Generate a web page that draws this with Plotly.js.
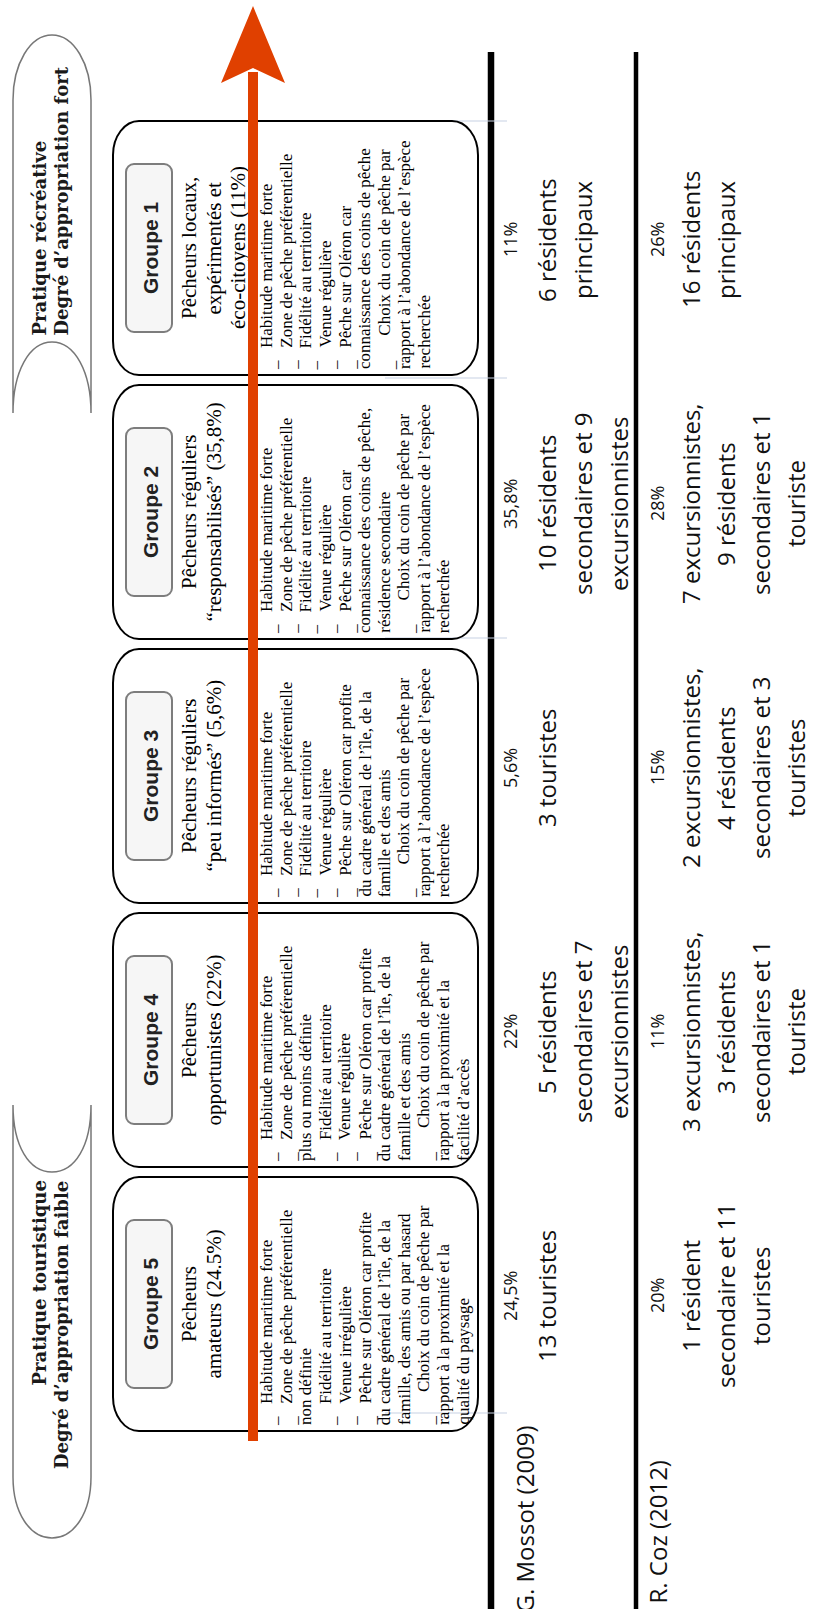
<!DOCTYPE html>
<html><head><meta charset="utf-8">
<script src="https://cdn.plot.ly/plotly-3.0.1.min.js"></script>
<style>html,body{margin:0;padding:0;background:#fff;overflow:hidden}</style>
</head><body><div id="chart" style="width:813px;height:1609px"></div>
<script>
// ---------------- DATA ----------------
const groups = ["Groupe 1", "Groupe 2", "Groupe 3", "Groupe 4", "Groupe 5"];
const groupTitles = [
  ["Pêcheurs locaux,", "expérimentés et", "éco-citoyens (11%)"],
  ["Pêcheurs réguliers", "“responsabilisés” (35,8%)"],
  ["Pêcheurs réguliers", "“peu informés” (5,6%)"],
  ["Pêcheurs", "opportunistes (22%)"],
  ["Pêcheurs", "amateurs (24.5%)"]
];
const descriptions = [
  [["Habitude maritime forte"], ["Zone de pêche préférentielle"], ["Fidélité au territoire"], ["Venue régulière"],
   ["Pêche sur Oléron car", "connaissance des coins de pêche"],
   ["Choix du coin de pêche par", "rapport à l’abondance de l’espèce", "recherchée"]],
  [["Habitude maritime forte"], ["Zone de pêche préférentielle"], ["Fidélité au territoire"], ["Venue régulière"],
   ["Pêche sur Oléron car", "connaissance des coins de pêche,", "résidence secondaire"],
   ["Choix du coin de pêche par", "rapport à l’abondance de l’espèce", "recherchée"]],
  [["Habitude maritime forte"], ["Zone de pêche préférentielle"], ["Fidélité au territoire"], ["Venue régulière"],
   ["Pêche sur Oléron car profite", "du cadre général de l’île, de la", "famille et des amis"],
   ["Choix du coin de pêche par", "rapport à l’abondance de l’espèce", "recherchée"]],
  [["Habitude maritime forte"], ["Zone de pêche préférentielle", "plus ou moins définie"], ["Fidélité au territoire"], ["Venue régulière"],
   ["Pêche sur Oléron car profite", "du cadre général de l’île, de la", "famille et des amis"],
   ["Choix du coin de pêche par", "rapport à la proximité et la", "facilité d’accès"]],
  [["Habitude maritime forte"], ["Zone de pêche préférentielle", "non définie"], ["Fidélité au territoire"], ["Venue irrégulière"],
   ["Pêche sur Oléron car profite", "du cadre général de l’île, de la", "famille, des amis ou par hasard"],
   ["Choix du coin de pêche par", "rapport à la proximité et la", "qualité du paysage"]]
];
const sources = ["G. Mossot (2009)", "R. Coz (2012)"];
const mossotShare = [11, 35.8, 5.6, 22, 24.5];
const cozShare = [26, 28, 15, 11, 20];
const mossotProfile = [
  ["6 résidents", "principaux"],
  ["10 résidents", "secondaires et 9", "excursionnistes"],
  ["3 touristes"],
  ["5 résidents", "secondaires et 7", "excursionnistes"],
  ["13 touristes"]
];
const cozProfile = [
  ["16 résidents", "principaux"],
  ["7 excursionnistes,", "9 résidents", "secondaires et 1", "touriste"],
  ["2 excursionnistes,", "4 résidents", "secondaires et 3", "touristes"],
  ["3 excursionnistes,", "3 résidents", "secondaires et 1", "touriste"],
  ["1 résident", "secondaire et 11", "touristes"]
];
const poleHigh = ["Pratique récréative", "Degré d’appropriation fort"];
const poleLow = ["Pratique touristique", "Degré d’appropriation faible"];

// ---------------- LAYOUT ----------------
const W = 813, H = 1609;
const RED = "#e04000";
const BX0 = 113, BX1 = 478;
const yTop = i => 121 + 264 * i;
const yBot = i => yTop(i) + 254;
const yMid = i => yTop(i) + 127;
const fmtPct = v => String(v).replace(".", ",") + "%";

const serif = { family: "Liberation Serif, serif", size: 17, color: "#000" };
const titleFont = { family: "Liberation Serif, serif", size: 21, color: "#000" };
const poleFont = { family: "DejaVu Serif, serif", size: 18, color: "#1a1a1a", weight: "bold" };
const sansBig = { family: "Open Sans, sans-serif", size: 24, color: "#111" };
const sansPct = { family: "Open Sans, sans-serif", size: 18, color: "#111" };
const grpFont = { family: "Liberation Sans, Arial, sans-serif", size: 21, color: "#222", weight: "bold" };

function vtext(text, x, y, anchor, font) {
  return { text: text, x: x, y: y, xref: "x", yref: "y", showarrow: false, textangle: -90,
           xanchor: "center", yanchor: anchor, font: font, borderpad: 0 };
}
function roundRect(x0, y0, x1, y1, rx, ry) {
  const k = 0.45;
  return `M${x0 + rx},${y0} L${x1 - rx},${y0} C${x1 - rx * k},${y0} ${x1},${y0 + ry * k} ${x1},${y0 + ry} ` +
         `L${x1},${y1 - ry} C${x1},${y1 - ry * k} ${x1 - rx * k},${y1} ${x1 - rx},${y1} ` +
         `L${x0 + rx},${y1} C${x0 + rx * k},${y1} ${x0},${y1 - ry * k} ${x0},${y1 - ry} ` +
         `L${x0},${y0 + ry} C${x0},${y0 + ry * k} ${x0 + rx * k},${y0} ${x0 + rx},${y0} Z`;
}

const shapes = [];
const ann = [];

// side pole labels
shapes.push({ type: "path", xref: "x", yref: "y", line: { color: "#777", width: 1.5 }, fillcolor: "#fff",
  path: "M13,413 L13,100 C13,64 30,35 52,35 C74,35 91,64 91,100 L91,413 C91,372 75,342 52,342 C29,342 13,372 13,413 Z" });
shapes.push({ type: "path", xref: "x", yref: "y", line: { color: "#777", width: 1.5 }, fillcolor: "#fff",
  path: "M13,1105 C13,1146 29,1172 52,1172 C75,1172 91,1146 91,1105 L91,1477 C91,1513 74,1538 52,1538 C30,1538 13,1513 13,1477 Z" });
poleHigh.forEach((t, j) => ann.push(vtext(t, 39 + 22 * j, 337, "bottom", poleFont)));
poleLow.forEach((t, j) => ann.push(vtext(t, 39 + 22 * j, 1180, "top", poleFont)));

// table rules
shapes.push({ type: "line", xref: "x", yref: "y", x0: 491, x1: 491, y0: 52, y1: H, line: { color: "#000", width: 6.5 } });
shapes.push({ type: "line", xref: "x", yref: "y", x0: 636, x1: 636, y0: 52, y1: H, line: { color: "#000", width: 4.5 } });
[121, 378, 638, 1413].forEach(y => shapes.push({ type: "line", xref: "x", yref: "y", x0: 385, x1: 507, y0: y, y1: y,
  line: { color: "#c7d2e4", width: 1.2 } }));

groups.forEach((g, i) => {
  const t = yTop(i), b = yBot(i), m = yMid(i);
  shapes.push({ type: "path", xref: "x", yref: "y", path: roundRect(BX0, t, BX1, b, 26, 34),
    line: { color: "#000", width: 2 }, fillcolor: "rgba(255,255,255,0)" });
  shapes.push({ type: "path", xref: "x", yref: "y", path: roundRect(126, m - 84, 172, m + 84, 8, 8),
    line: { color: "#7d7d7d", width: 2 }, fillcolor: "#f6f6f6" });
  ann.push(vtext(g, 150, m, "middle", grpFont));
  groupTitles[i].forEach((s, j) => ann.push(vtext(s, 189 + 24.5 * j, m, "middle", titleFont)));
  let line = 0;
  descriptions[i].forEach((item, k) => {
    const last = k === descriptions[i].length - 1;
    item.forEach((s, j) => {
      const x = 266 + 19.7 * line;
      if (j === 0) {
        ann.push(vtext(s, x, b - (last ? 38 : 26), "bottom", serif));
        ann.push(vtext("–", x + 10, b - 4, "bottom", serif));
      } else {
        ann.push(vtext(s, x, b - 5, "bottom", serif));
      }
      line++;
    });
  });
  // table columns
  ann.push(vtext(fmtPct(mossotShare[i]), 510, m - 8, "middle", sansPct));
  mossotProfile[i].forEach((s, j) => ann.push(vtext(s, 546 + 36 * j, m - 8, "middle", sansBig)));
  ann.push(vtext(fmtPct(cozShare[i]), 657, m - 8, "middle", sansPct));
  cozProfile[i].forEach((s, j) => ann.push(vtext(s, 690 + 35 * j, m - 8, "middle", sansBig)));
});
ann.push(vtext(sources[0], 524, 1425, "top", sansBig));
ann.push(vtext(sources[1], 657, 1460, "top", sansBig));

// arrow head (shape) and shaft (annotation arrow, drawn above the texts)
shapes.push({ type: "path", xref: "x", yref: "y", path: "M253,6 L285,83 L253,68 L221,83 Z",
  fillcolor: RED, line: { color: RED, width: 0 } });
ann.push({ text: " ", x: 253, y: 72, ax: 253, ay: 1443, xref: "x", yref: "y", axref: "x", ayref: "y",
  showarrow: true, arrowhead: 0, arrowwidth: 10, arrowcolor: RED, standoff: 0, font: { size: 1 } });

const layout = {
  width: W, height: H, margin: { l: 0, r: 0, t: 0, b: 0 },
  paper_bgcolor: "#fff", plot_bgcolor: "#fff", showlegend: false,
  xaxis: { range: [0, W], visible: false, fixedrange: true },
  yaxis: { range: [H, 0], visible: false, fixedrange: true },
  shapes: shapes, annotations: ann
};
Plotly.newPlot("chart", [{ type: "scatter", x: [], y: [], hoverinfo: "skip" }], layout,
  { staticPlot: true, displayModeBar: false });
</script></body></html>
